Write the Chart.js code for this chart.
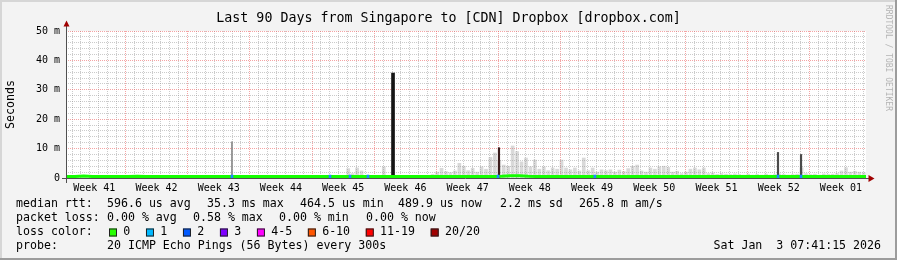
<!DOCTYPE html>
<html>
<head>
<meta charset="utf-8">
<script src="https://cdn.jsdelivr.net/npm/chart.js@4.4.1/dist/chart.umd.min.js"></script>
<style>
  html, body { margin: 0; padding: 0; background: #f3f3f3; }
  canvas { display: block; }
</style>
</head>
<body>
<canvas id="pingChart" width="897" height="260"></canvas>
<script>
// x axis = days since graph start (90 days up to Sat Jan 3 07:41:15 2026)
const rangeDays = 90;
const startHour = 7 + 41 / 60 + 15 / 3600;   // first sample at 07:41:15 on Sun Oct 5
const weekLabels = ['Week 41', 'Week 42', 'Week 43', 'Week 44', 'Week 45', 'Week 46', 'Week 47',
                    'Week 48', 'Week 49', 'Week 50', 'Week 51', 'Week 52', 'Week 01'];

const chartTitle = 'Last 90 Days from Singapore to [CDN] Dropbox [dropbox.com]';
const yTitle = 'Seconds';

// median rtt, one value per day (ms)
const medianRtt = [
    0.5, 0.5, 0.7, 0.5, 0.5, 0.5, 0.5, 0.5, 0.6, 0.5,
    0.5, 0.5, 0.5, 0.5, 0.5, 0.5, 0.5, 0.5, 0.5, 0.5,
    0.5, 0.5, 0.5, 0.5, 0.5, 0.5, 0.5, 0.5, 0.5, 0.5,
    0.5, 0.5, 0.5, 0.5, 0.5, 0.5, 0.5, 0.5, 0.5, 0.5,
    0.5, 0.5, 0.5, 0.5, 0.5, 0.5, 0.5, 0.5, 0.5, 0.6,
    0.8, 0.8, 0.6, 0.5, 0.5, 0.5, 0.5, 0.5, 0.5, 0.5,
    0.5, 0.5, 0.5, 0.5, 0.5, 0.5, 0.5, 0.5, 0.5, 0.5,
    0.5, 0.5, 0.5, 0.5, 0.5, 0.5, 0.5, 0.5, 0.5, 0.5,
    0.5, 0.5, 0.5, 0.5, 0.5, 0.5, 0.5, 0.5, 0.5, 0.5,
    0.5
];

// smoke: top of the ping spread, one value per 12 h (ms), 0 = nothing visible
const smokeStep = 0.5;
const smokeTop = [
    0, 0, 0, 0, 0, 0, 0, 0, 0, 0,
    0, 0, 0, 0, 0, 0, 0, 0, 0, 0,
    0, 0, 0, 0, 0, 0, 0, 0, 0, 0,
    0, 0, 0, 0, 0, 0, 0, 0, 0, 0,
    0, 0, 0, 0, 0, 0, 0, 0, 0, 0,
    0, 0, 0, 0, 0, 0, 0, 0, 0, 0,
    0, 0, 0, 3.2, 1.5, 3.4, 2.4, 0, 0, 0,
    0, 3.8, 0, 0, 0, 0, 0, 0, 0, 0,
    0, 0, 1.2, 2.0, 3.3, 2.2, 1.8, 2.4, 5.0, 4.0,
    2.5, 3.3, 2.0, 3.8, 3.0, 7.0, 8.5, 6.0, 4.4, 4.0,
    10.9, 9.0, 5.5, 6.8, 3.8, 6.1, 3.0, 3.8, 2.5, 3.4,
    3.0, 6.1, 3.4, 2.8, 3.4, 2.4, 6.8, 2.5, 3.4, 2.0,
    2.8, 2.5, 2.8, 2.0, 2.7, 2.2, 3.2, 4.0, 4.4, 2.4,
    2.0, 3.4, 3.0, 3.8, 4.0, 3.6, 2.0, 2.3, 1.5, 2.0,
    3.0, 3.4, 2.8, 3.4, 1.5, 1.7, 1.2, 1.5, 1.3, 1.2,
    1.4, 1.2, 1.0, 1.3, 1.0, 1.2, 1.0, 1.3, 1.0, 1.2,
    1.4, 1.2, 1.0, 1.2, 1.3, 3.5, 1.5, 1.2, 1.3, 1.0,
    1.4, 1.2, 1.3, 1.5, 2.4, 3.5, 2.0, 2.3, 2.0, 1.8
];

// single outliers (day, ms)
const peakDay = [36.79];
const peakTop = [35.7];
const spikeDays = [48.71, 80.1, 82.69];
const spikeTops = [10.3, 8.7, 8.0];
const faintSpikeDays = [18.67];
const faintSpikeTops = [12.3];

// samples with 1 of 20 pings lost
const lossDays = [18.67, 29.7, 31.95, 33.97, 48.6, 59.5, 80.1, 82.69];

// legend
const lossLabels = ['0', '1', '2', '3', '4-5', '6-10', '11-19', '20/20'];
const lossColors = ['#26ff00', '#00b8ff', '#0059ff', '#7e00ff', '#ff00ff', '#ff5500', '#ff0000', '#a10000'];

const mono = '"DejaVu Sans Mono", monospace';

// grid positions: midnights and Sunday week boundaries
const firstMidnight = 1 - startHour / 24;
const firstWeekLine = firstMidnight + 6;
const dayLines = [];
for (let d = firstMidnight; d < rangeDays; d += 1) dayLines.push(d);
const weekCenters = weekLabels.map((w, i) => firstWeekLine - 3.5 + i * 7);
function isWeekLine(v) {
    const k = (v - firstWeekLine) / 7;
    return Math.abs(k - Math.round(k)) < 0.01;
}

const majorGrid = 'rgba(235, 90, 90, 0.55)';
const minorGrid = 'rgba(140, 140, 140, 0.45)';

const smokepingFrame = {
    id: 'smokepingFrame',
    beforeDraw(chart) {
        const { ctx, chartArea: a, width, height } = chart;
        ctx.save();
        ctx.fillStyle = '#f3f3f3';
        ctx.fillRect(0, 0, width, height);
        ctx.fillStyle = '#ffffff';
        ctx.fillRect(a.left, a.top, a.right - a.left, a.bottom - a.top);
        ctx.restore();
    },
    afterDraw(chart) {
        const { ctx, chartArea: a, width, height } = chart;
        ctx.save();

        // axes
        ctx.strokeStyle = '#505050';
        ctx.lineWidth = 1;
        ctx.beginPath();
        ctx.moveTo(a.left + 0.5, a.bottom + 5);
        ctx.lineTo(a.left + 0.5, a.top - 5);
        ctx.moveTo(a.left - 4, a.bottom + 0.5);
        ctx.lineTo(a.right + 3, a.bottom + 0.5);
        ctx.stroke();
        ctx.fillStyle = '#a00000';
        ctx.beginPath();
        ctx.moveTo(a.left - 2.5, a.top - 4.5);
        ctx.lineTo(a.left + 3.5, a.top - 4.5);
        ctx.lineTo(a.left + 0.5, a.top - 10.5);
        ctx.closePath();
        ctx.fill();
        ctx.beginPath();
        ctx.moveTo(a.right + 2.5, a.bottom - 3);
        ctx.lineTo(a.right + 2.5, a.bottom + 4);
        ctx.lineTo(a.right + 8.5, a.bottom + 0.5);
        ctx.closePath();
        ctx.fill();

        // title
        ctx.fillStyle = '#000';
        ctx.font = '13.3px ' + mono;
        ctx.textAlign = 'center';
        ctx.textBaseline = 'middle';
        ctx.fillText(chartTitle, width / 2, 19);

        // y title
        ctx.save();
        ctx.font = '11.6px ' + mono;
        ctx.translate(11, (a.top + a.bottom) / 2);
        ctx.rotate(-Math.PI / 2);
        ctx.fillText(yTitle, 0, 0);
        ctx.restore();

        // watermark
        ctx.save();
        ctx.font = '8px ' + mono;
        ctx.fillStyle = '#b4b4b4';
        ctx.textAlign = 'left';
        ctx.translate(888, 5);
        ctx.rotate(Math.PI / 2);
        ctx.fillText('RRDTOOL / TOBI OETIKER', 0, 0);
        ctx.restore();

        // legend rows
        ctx.font = '11.6px ' + mono;
        ctx.textAlign = 'left';
        ctx.fillStyle = '#000';
        const rows = [
            [204, [['median rtt:', 16], ['596.6 us avg', 107], ['35.3 ms max', 207], ['464.5 us min', 300],
                   ['489.9 us now', 398], ['2.2 ms sd', 500], ['265.8 m am/s', 579]]],
            [218, [['packet loss:', 16], ['0.00 % avg', 107], ['0.58 % max', 193], ['0.00 % min', 279],
                   ['0.00 % now', 366]]],
            [232, [['loss color:', 16]]],
            [246, [['probe:', 16], ['20 ICMP Echo Pings (56 Bytes) every 300s', 107]]]
        ];
        rows.forEach(([y, chunks]) => chunks.forEach(([t, x]) => ctx.fillText(t, x, y)));

        let bx = 109;
        lossLabels.forEach((label, i) => {
            ctx.fillStyle = lossColors[i];
            ctx.fillRect(bx, 228.5, 8, 8);
            ctx.strokeStyle = '#202020';
            ctx.strokeRect(bx + 0.5, 228.5 + 0.5, 7, 7);
            ctx.fillStyle = '#000';
            const lx = bx + 14.3;
            ctx.fillText(label, lx, 232);
            bx = lx + ctx.measureText(label).width + 15.7;
        });

        ctx.textAlign = 'right';
        ctx.fillText('Sat Jan  3 07:41:15 2026', 881, 246);

        // 3d frame
        ctx.fillStyle = '#d6d6d6';
        ctx.fillRect(0, 0, width, 2);
        ctx.fillRect(0, 0, 2, height);
        ctx.fillStyle = '#9c9c9c';
        ctx.fillRect(0, height - 2, width, 2);
        ctx.fillRect(width - 2, 0, 2, height);
        ctx.restore();
    }
};

const ctx = document.getElementById('pingChart');
new Chart(ctx, {
    type: 'bar',
    data: {
        datasets: [{
            label: 'smoke',
            data: smokeTop.map((v, i) => ({ x: i * smokeStep + smokeStep / 2, y: v })),
            backgroundColor: 'rgba(150, 150, 150, 0.36)',
            barThickness: 3,
            grouped: false,
            order: 6
        }, {
            label: 'faint outlier',
            data: faintSpikeDays.map((d, i) => ({ x: d, y: faintSpikeTops[i] })),
            backgroundColor: '#8a8a8a',
            barThickness: 1,
            grouped: false,
            order: 5
        }, {
            label: 'outliers',
            data: spikeDays.map((d, i) => ({ x: d, y: spikeTops[i] })),
            backgroundColor: ['#3a1c1c', '#4a4a4a', '#4a4a4a'],
            barThickness: 1.5,
            grouped: false,
            order: 4
        }, {
            label: 'peak',
            data: peakDay.map((d, i) => ({ x: d, y: peakTop[i] })),
            backgroundColor: '#151515',
            barThickness: 3,
            grouped: false,
            order: 3
        }, {
            type: 'line',
            label: 'median rtt',
            data: medianRtt.map((v, i) => ({ x: i, y: v })),
            borderColor: '#14ff00',
            borderWidth: 3,
            pointRadius: 0,
            tension: 0,
            order: 2
        }, {
            label: 'loss 1',
            data: lossDays.map(d => ({ x: d, y: [0.05, 1.0] })),
            backgroundColor: '#1c8cff',
            barThickness: 2,
            grouped: false,
            order: 1
        }]
    },
    options: {
        responsive: false,
        animation: false,
        events: [],
        layout: { padding: { top: 31, right: 31, bottom: 0, left: 0 } },
        plugins: {
            legend: { display: false },
            tooltip: { enabled: false },
            title: { display: false }
        },
        scales: {
            x: {
                type: 'linear',
                min: 0,
                max: rangeDays,
                offset: false,
                position: 'bottom',
                afterBuildTicks: function(scale) {
                    scale.ticks = dayLines.map(v => ({ value: v }));
                },
                afterFit: function(scale) { scale.height = 0; },
                ticks: { display: false },
                border: { display: false, dash: [1, 1] },
                grid: {
                    offset: false,
                    drawTicks: false,
                    color: function(context) {
                        return isWeekLine(context.tick.value) ? majorGrid : minorGrid;
                    }
                }
            },
            weeks: {
                type: 'linear',
                min: 0,
                max: rangeDays,
                offset: false,
                position: 'bottom',
                afterBuildTicks: function(scale) {
                    scale.ticks = weekCenters.map(v => ({ value: v }));
                },
                afterFit: function(scale) { scale.height = 82; },
                border: { display: false },
                grid: { display: false, drawTicks: false, offset: false },
                ticks: {
                    autoSkip: false,
                    maxRotation: 0,
                    minRotation: 0,
                    padding: 4,
                    color: '#000',
                    font: { family: mono, size: 10 },
                    callback: function(value, index) {
                        return weekLabels[index];
                    }
                }
            },
            y: {
                min: 0,
                max: 50,
                afterFit: function(scale) { scale.width = 66; },
                border: { display: false, dash: [1, 1] },
                ticks: {
                    stepSize: 2,
                    autoSkip: false,
                    padding: 6,
                    color: '#000',
                    font: { family: mono, size: 10 },
                    callback: function(value) {
                        if (value % 10 !== 0) return '';
                        return value === 0 ? '0' : value + ' m';
                    }
                },
                grid: {
                    drawTicks: false,
                    color: function(context) {
                        return context.tick.value % 10 === 0 ? majorGrid : minorGrid;
                    }
                }
            }
        }
    },
    plugins: [smokepingFrame]
});
</script>
</body>
</html>
